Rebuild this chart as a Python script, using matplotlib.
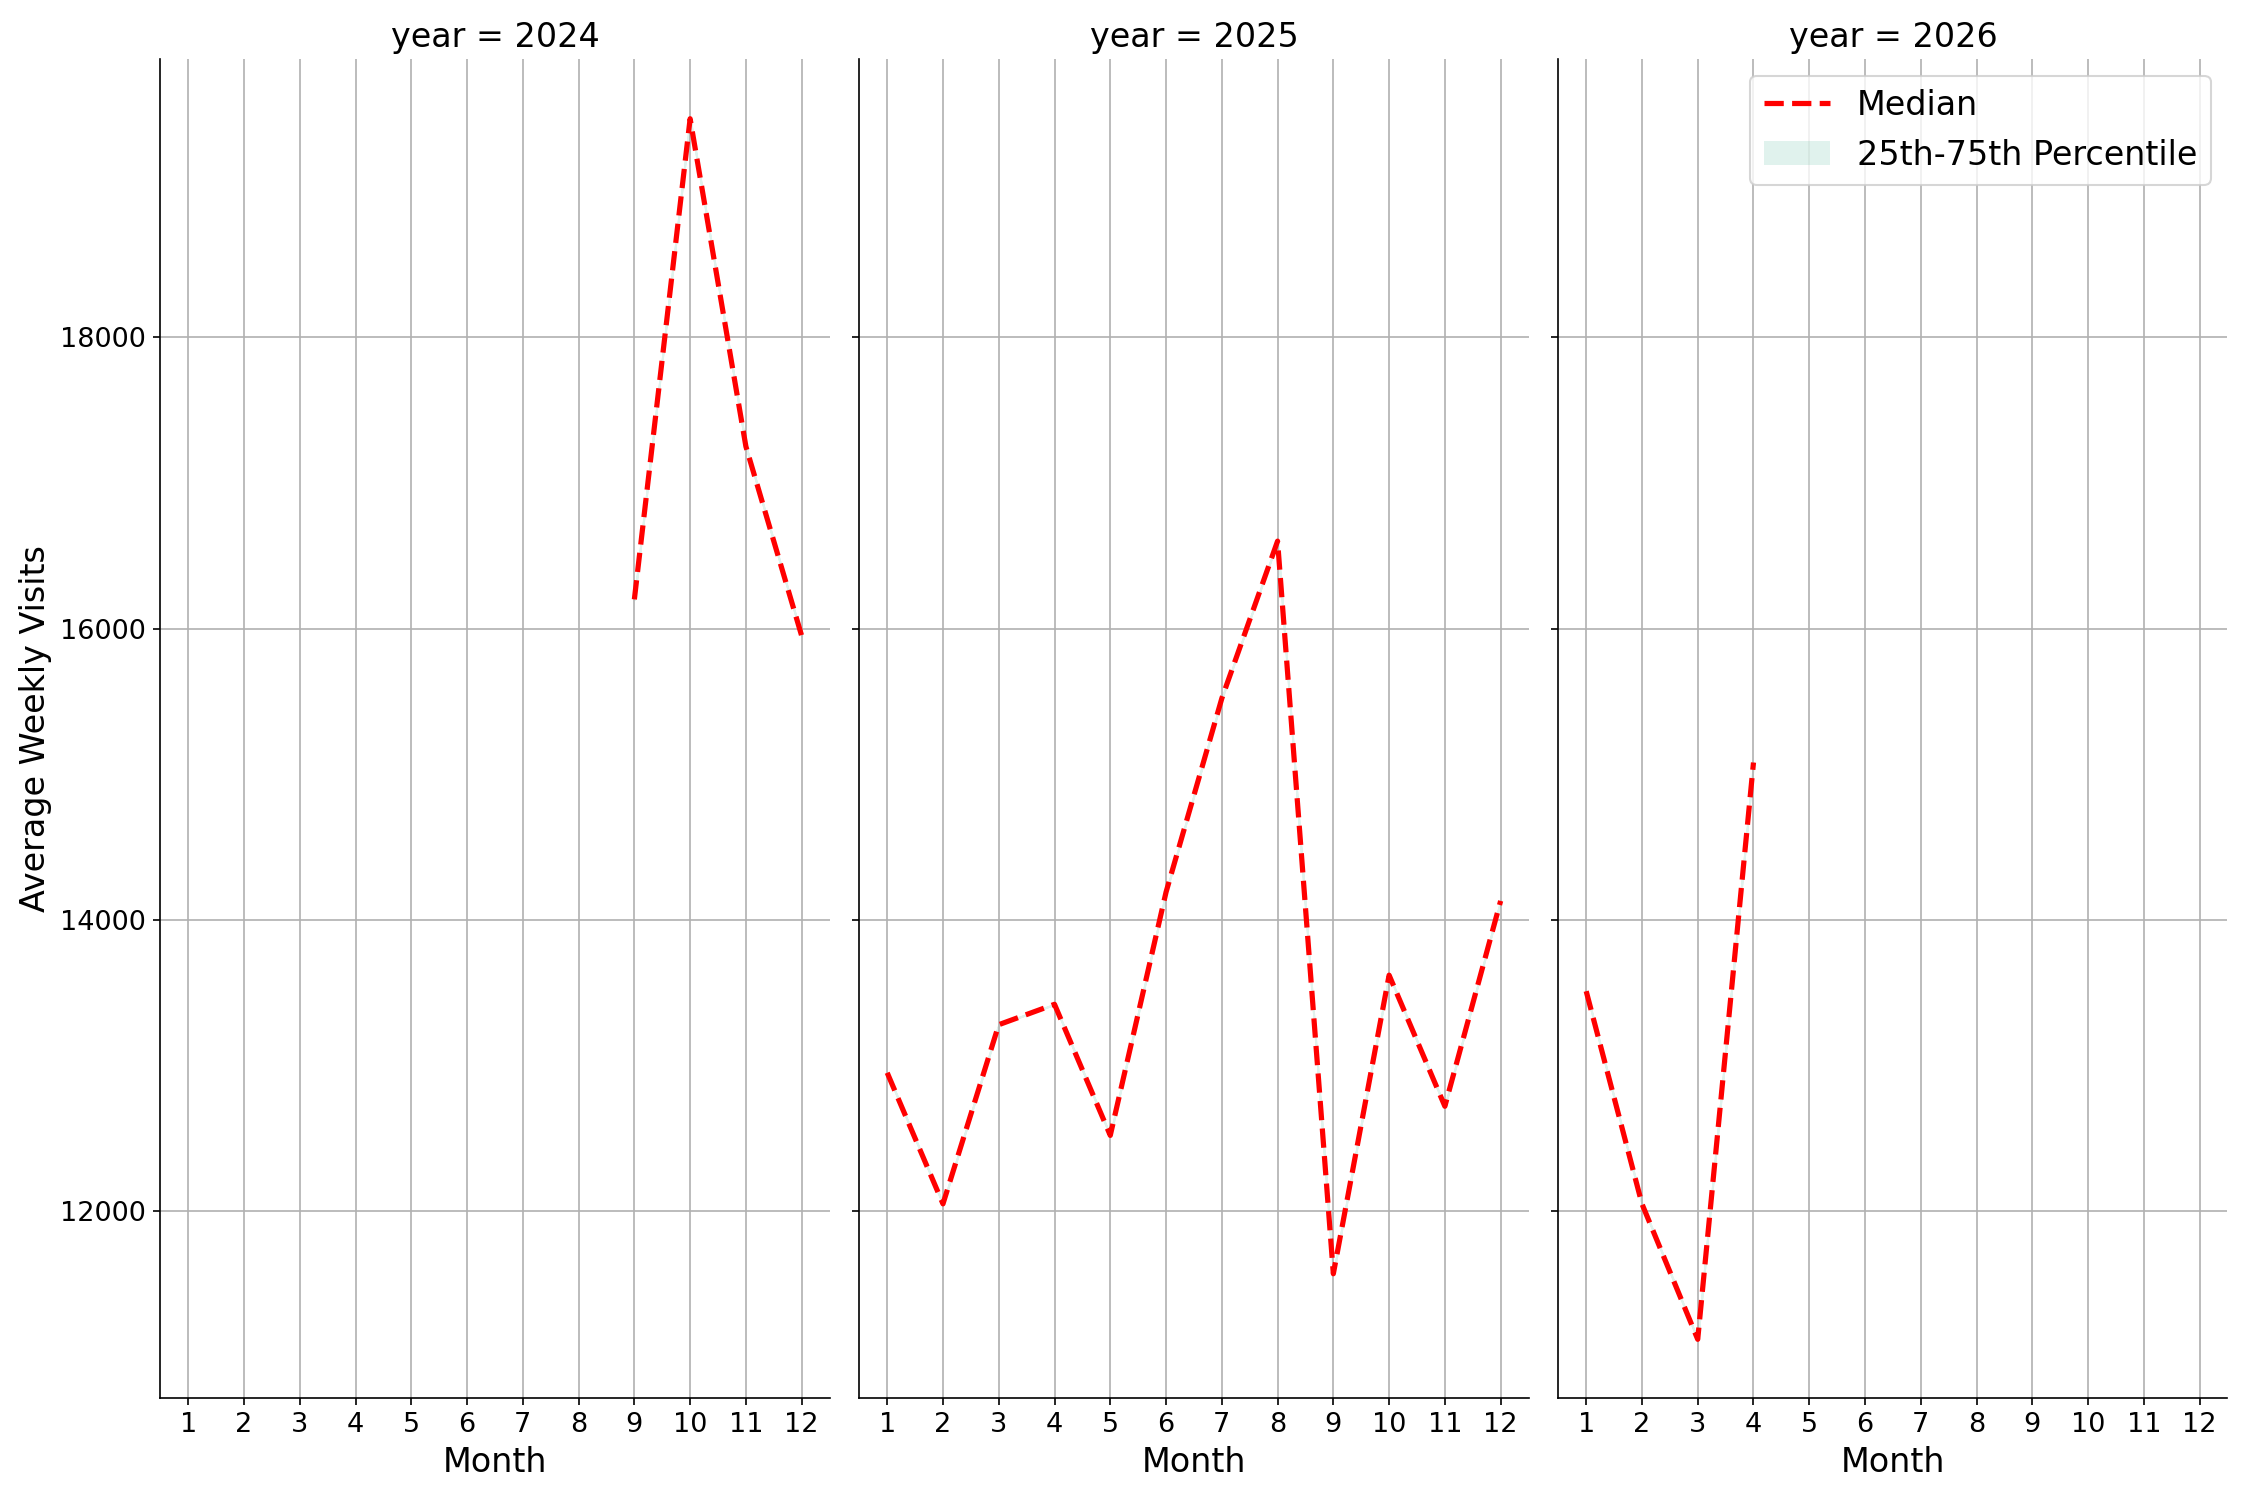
import matplotlib.pyplot as plt
from matplotlib.patches import Patch
from matplotlib.lines import Line2D

YEARS = [2024, 2025, 2026]
MONTHS = {
    2024: [9, 10, 11, 12],
    2025: [1, 2, 3, 4, 5, 6, 7, 8, 9, 10, 11, 12],
    2026: [1, 2, 3, 4],
}
MEDIAN = {
    2024: [16200, 19500, 17250, 15950],
    2025: [12950, 12050, 13280, 13420, 12520, 14190, 15520, 16600, 11570, 13620, 12720, 14130],
    2026: [13510, 12050, 11120, 15080],
}


def main() -> None:
    fig, axes = plt.subplots(1, 3, figsize=(15, 10), sharey=True)
    for ax, year in zip(axes, YEARS):
        x = MONTHS[year]
        y = MEDIAN[year]
        ax.fill_between(x, y, y, color="#66c2a5", alpha=0.2)
        ax.plot(x, y, color="red", linestyle="--", linewidth=2.5)
        ax.set_title(f"year = {year}", fontsize=16)
        ax.set_xticks(range(1, 13))
        ax.set_xlim(0.5, 12.5)
        ax.set_xlabel("Month", fontsize=16)
        ax.tick_params(labelsize=13)
        ax.grid(True)
        ax.spines["top"].set_visible(False)
        ax.spines["right"].set_visible(False)
    axes[0].set_ylim(10720, 19910)
    axes[0].set_yticks([12000, 14000, 16000, 18000])
    axes[0].set_ylabel("Average Weekly Visits", fontsize=16)

    handles = [
        Line2D([0], [0], color="red", linestyle="--", linewidth=2.5),
        Patch(facecolor="#66c2a5", alpha=0.2),
    ]
    axes[2].legend(handles, ["Median", "25th-75th Percentile"], loc="upper right", fontsize=16)

    fig.tight_layout()
    fig.savefig("out.png", dpi=150)
    plt.close(fig)


if __name__ == "__main__":
    main()
